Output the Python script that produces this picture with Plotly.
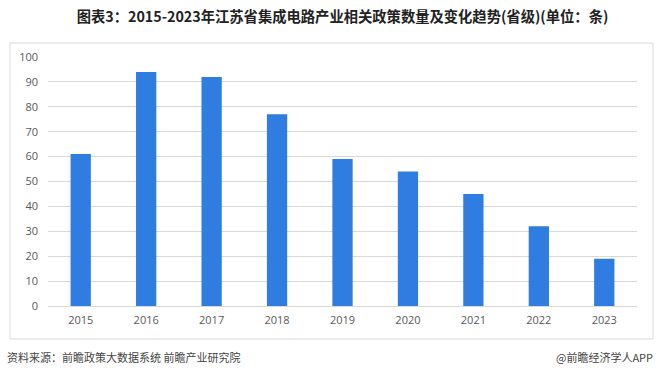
import plotly.graph_objects as go

years = ["2015", "2016", "2017", "2018", "2019", "2020", "2021", "2022", "2023"]
policy_counts = [61, 94, 92, 77, 59, 54, 45, 32, 19]
y_ticks = [0, 10, 20, 30, 40, 50, 60, 70, 80, 90, 100]

title_text = "图表3：2015-2023年江苏省集成电路产业相关政策数量及变化趋势(省级)(单位：条)"
source_text = "资料来源：前瞻政策大数据系统 前瞻产业研究院"
brand_text = "@前瞻经济学人APP"

W, H = 660, 380
L, R, T, B = 48, 23, 57, 74
pw, ph = W - L - R, H - T - B

def px(x):
    return (x - L) / pw

def py(y):
    return (H - B - y) / ph

fig = go.Figure()
fig.add_trace(go.Bar(
    x=years, y=policy_counts,
    marker=dict(color="#2F7DE1", line=dict(width=0)),
    width=0.31,
))

font_family = "Noto Sans CJK SC, Microsoft YaHei, sans-serif"

fig.update_layout(
    width=W, height=H,
    margin=dict(l=L, r=R, t=T, b=B),
    paper_bgcolor="white", plot_bgcolor="white",
    showlegend=False,
    font=dict(family=font_family, color="#595959", size=11),
    title=dict(
        text="<b>" + title_text + "</b>",
        x=0.5, xanchor="center", xref="paper",
        y=1 - 17 / H, yanchor="middle", yref="container",
        font=dict(size=14.3, color="#222222", family=font_family),
    ),
    xaxis=dict(
        showgrid=False, showline=False, ticks="",
        tickfont=dict(size=11, color="#595959", family="Open Sans, sans-serif"),
        ticklabelstandoff=6,
    ),
    yaxis=dict(
        range=[0, 100], tickvals=y_ticks, showgrid=True, gridcolor="#D9D9D9",
        gridwidth=1, zeroline=True, zerolinecolor="#D9D9D9", zerolinewidth=1,
        showline=False, ticks="",
        tickfont=dict(size=11, color="#595959", family="Open Sans, sans-serif"),
        ticklabelstandoff=9,
    ),
    shapes=[dict(
        type="rect", xref="paper", yref="paper",
        x0=px(10), x1=px(653), y0=py(339), y1=py(43),
        line=dict(color="#D9D9D9", width=1), fillcolor="rgba(0,0,0,0)", layer="below",
    )],
    annotations=[
        dict(text=source_text, xref="paper", yref="paper", x=px(5), y=py(357),
             xanchor="left", yanchor="middle", showarrow=False,
             font=dict(size=11, color="#444444", family=font_family)),
        dict(text=brand_text, xref="paper", yref="paper", x=px(655), y=py(357),
             xanchor="right", yanchor="middle", showarrow=False,
             font=dict(size=11, color="#444444", family=font_family)),
    ],
)

fig.write_html(
    "out.html",
    config={"displayModeBar": False},
    post_script="document.body.style.margin='0';document.body.style.padding='0';",
)
